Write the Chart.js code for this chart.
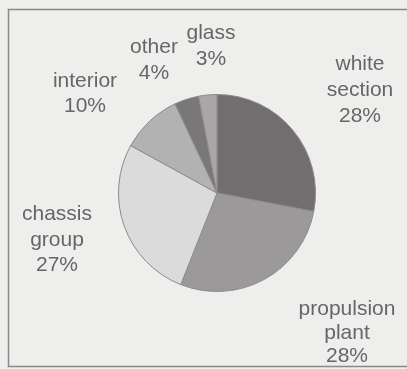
<!DOCTYPE html>
<html>
<head>
<meta charset="utf-8">
<script src="https://cdn.jsdelivr.net/npm/chart.js@4/dist/chart.umd.min.js"></script>
<style>
    html, body { margin: 0; padding: 0; background: #eeeeec; }
    #wrap { position: relative; width: 407px; height: 369px; }
</style>
</head>
<body>
<div id="wrap"><canvas id="pieChart" width="407" height="369"></canvas></div>
<script>
// vehicle weight breakdown by component group
const categories = ['white section', 'propulsion plant', 'chassis group', 'interior', 'other', 'glass'];
const shares = [28, 28, 27, 10, 4, 3];
const labelLines = [
    ['white', 'section', '28%'],
    ['propulsion', 'plant', '28%'],
    ['chassis', 'group', '27%'],
    ['interior', '10%'],
    ['other', '4%'],
    ['glass', '3%']
];

const sliceColors = ['#726e6f', '#9c999a', '#dbdbdb', '#b3b2b2', '#7a7778', '#a8a6a7'];
// label block anchors, relative to the pie centre: [dx, first baseline dy, line gap]
const labelOffsets = [
    [143, -123, 26],
    [130, 122, 23.5],
    [-160, 27, 25.5],
    [-132, -106, 25],
    [-63, -140, 26],
    [-6, -154, 26]
];

const frame = {
    id: 'frame',
    beforeDraw(chart) {
        const c = chart.ctx;
        c.save();
        c.fillStyle = '#eeeeec';
        c.fillRect(0, 0, chart.width, chart.height);
        c.strokeStyle = '#8a8888';
        c.lineWidth = 1.5;
        c.beginPath();
        c.moveTo(chart.width, 9.5);
        c.lineTo(8.5, 9.5);
        c.lineTo(8.5, 366.5);
        c.lineTo(chart.width, 366.5);
        c.stroke();
        c.restore();
    }
};

const sliceLabels = {
    id: 'sliceLabels',
    afterDraw(chart) {
        const c = chart.ctx;
        const arcs = chart.getDatasetMeta(0).data;
        c.save();
        c.font = '21px "Liberation Sans", Arial, sans-serif';
        c.fillStyle = '#696567';
        c.textAlign = 'center';
        c.textBaseline = 'alphabetic';
        arcs.forEach((arc, i) => {
            const [dx, dy, gap] = labelOffsets[i];
            labelLines[i].forEach((line, j) => {
                c.fillText(line, arc.x + dx, arc.y + dy + j * gap);
            });
        });
        c.restore();
    }
};

new Chart(document.getElementById('pieChart'), {
    type: 'pie',
    data: {
        labels: categories,
        datasets: [{
            data: shares,
            backgroundColor: sliceColors,
            borderColor: '#8d8b8c',
            borderWidth: 1
        }]
    },
    options: {
        responsive: false,
        animation: false,
        layout: { padding: { left: 118, right: 91, top: 94, bottom: 77 } },
        plugins: {
            legend: { display: false },
            tooltip: { enabled: false }
        }
    },
    plugins: [frame, sliceLabels]
});
</script>
</body>
</html>
